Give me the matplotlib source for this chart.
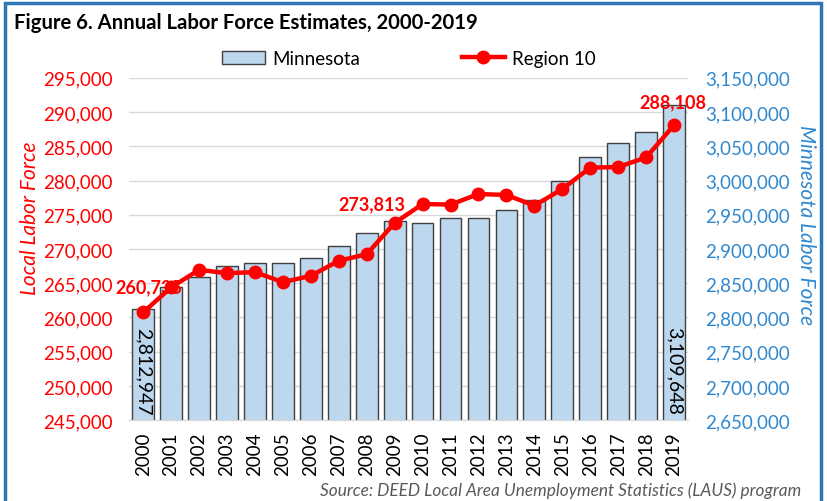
import matplotlib.pyplot as plt
import numpy as np
from matplotlib.patches import Rectangle

plt.rcParams['font.family'] = ['Lato', 'DejaVu Sans']

# data
years = [str(y) for y in range(2000, 2020)]
minnesota = [2812947, 2844000, 2859500, 2874700, 2879100, 2879000, 2886800,
             2904800, 2923800, 2940500, 2937600, 2944900, 2944900, 2957500,
             2971200, 2999000, 3034100, 3055000, 3070600, 3109648]
region10 = [260735, 264400, 266950, 266470, 266620, 265160, 266080, 268270,
            269240, 273813, 276570, 276480, 278030, 277890, 276340, 278760,
            281880, 281970, 283380, 288108]
left_ticks = list(range(245000, 295001, 5000))
right_ticks = list(range(2650000, 3150001, 50000))

red = '#FF0000'
blue = '#2F88CF'

fig = plt.figure(figsize=(8.28, 5.02), dpi=100)
ax = fig.add_axes([0.156, 0.161, 0.675, 0.682])
ax2 = ax.twinx()
# bars on the right axis, drawn below the line
ax.set_zorder(2)
ax.patch.set_visible(False)
ax2.set_zorder(1)

x = np.arange(len(years))
ax2.bar(x, minnesota, width=0.78, color='#BDD7EE', edgecolor='#404040', linewidth=1, zorder=2)
ax2.set_ylim(2650000, 3150000)
ax2.set_yticks(right_ticks)
ax2.set_yticklabels([f'{v:,}' for v in right_ticks], color=blue, fontsize=13.5)

ax.plot(x, region10, color=red, lw=3.2, marker='o', markersize=9, zorder=5)
ax.set_ylim(245000, 295000)
ax.set_yticks(left_ticks)
ax.set_yticklabels([f'{v:,}' for v in left_ticks], color=red, fontsize=13.5)
ax.set_xlim(-0.5, len(years) - 0.5)
ax.set_xticks(x)
ax.set_xticklabels(years, rotation=90, fontsize=13.5)

ax2.yaxis.grid(True, color='#D9D9D9', lw=1)
ax2.set_axisbelow(True)
for a in (ax, ax2):
    for s in ['top', 'left', 'right']:
        a.spines[s].set_visible(False)
    a.spines['bottom'].set_color('#D9D9D9')
    a.tick_params(axis='y', length=0, pad=12)
    a.tick_params(axis='x', length=0, pad=8)

ax.set_ylabel('Local Labor Force', color=red, fontsize=15, style='italic')
ax.yaxis.set_label_coords(-0.16, 0.594)
ax2.set_ylabel('Minnesota Labor Force', color=blue, fontsize=15, style='italic', rotation=270)
ax2.yaxis.set_label_coords(1.229, 0.573)

# value labels
ax.text(x[0] + 0.2, region10[0] + 3700, f'{region10[0]:,}', color=red, fontsize=13,
        fontweight='bold', ha='center', va='center', zorder=4)
ax.text(x[9] + 0.4, region10[9] + 1500, f'{region10[9]:,}', color=red, fontsize=13,
        fontweight='bold', ha='right', va='bottom', zorder=4)
ax.text(x[19] - 0.05, region10[19] + 2200, f'{region10[19]:,}', color=red, fontsize=13,
        fontweight='bold', ha='center', va='bottom', zorder=4)
for i in (0, 19):
    ax2.text(x[i], 2658500, f'{minnesota[i]:,}', rotation=270, ha='center', va='bottom',
             fontsize=14, color='black', zorder=3)

# legend
h1 = ax2.patches[0]
h2 = ax.lines[0]
fig.legend([h1, h2], ['Minnesota', 'Region 10'], loc='center', bbox_to_anchor=(0.494, 0.882),
           ncol=2, frameon=False, fontsize=13.5, columnspacing=5.4, handlelength=2.3,
           handletextpad=0.4)

fig.text(0.017, 0.955, 'Figure 6. Annual Labor Force Estimates, 2000-2019', fontsize=14.6,
         fontweight='bold', ha='left', va='center')
fig.text(0.968, 0.022, 'Source: DEED Local Area Unemployment Statistics (LAUS) program',
         fontsize=12.4, style='italic', color='#595959', ha='right', va='center')

fig.patches.append(Rectangle((0.006, -0.01), 0.986, 1.002, transform=fig.transFigure,
                             fill=False, edgecolor='#2E75B6', lw=2.5))

fig.savefig('out.png', dpi=100)
